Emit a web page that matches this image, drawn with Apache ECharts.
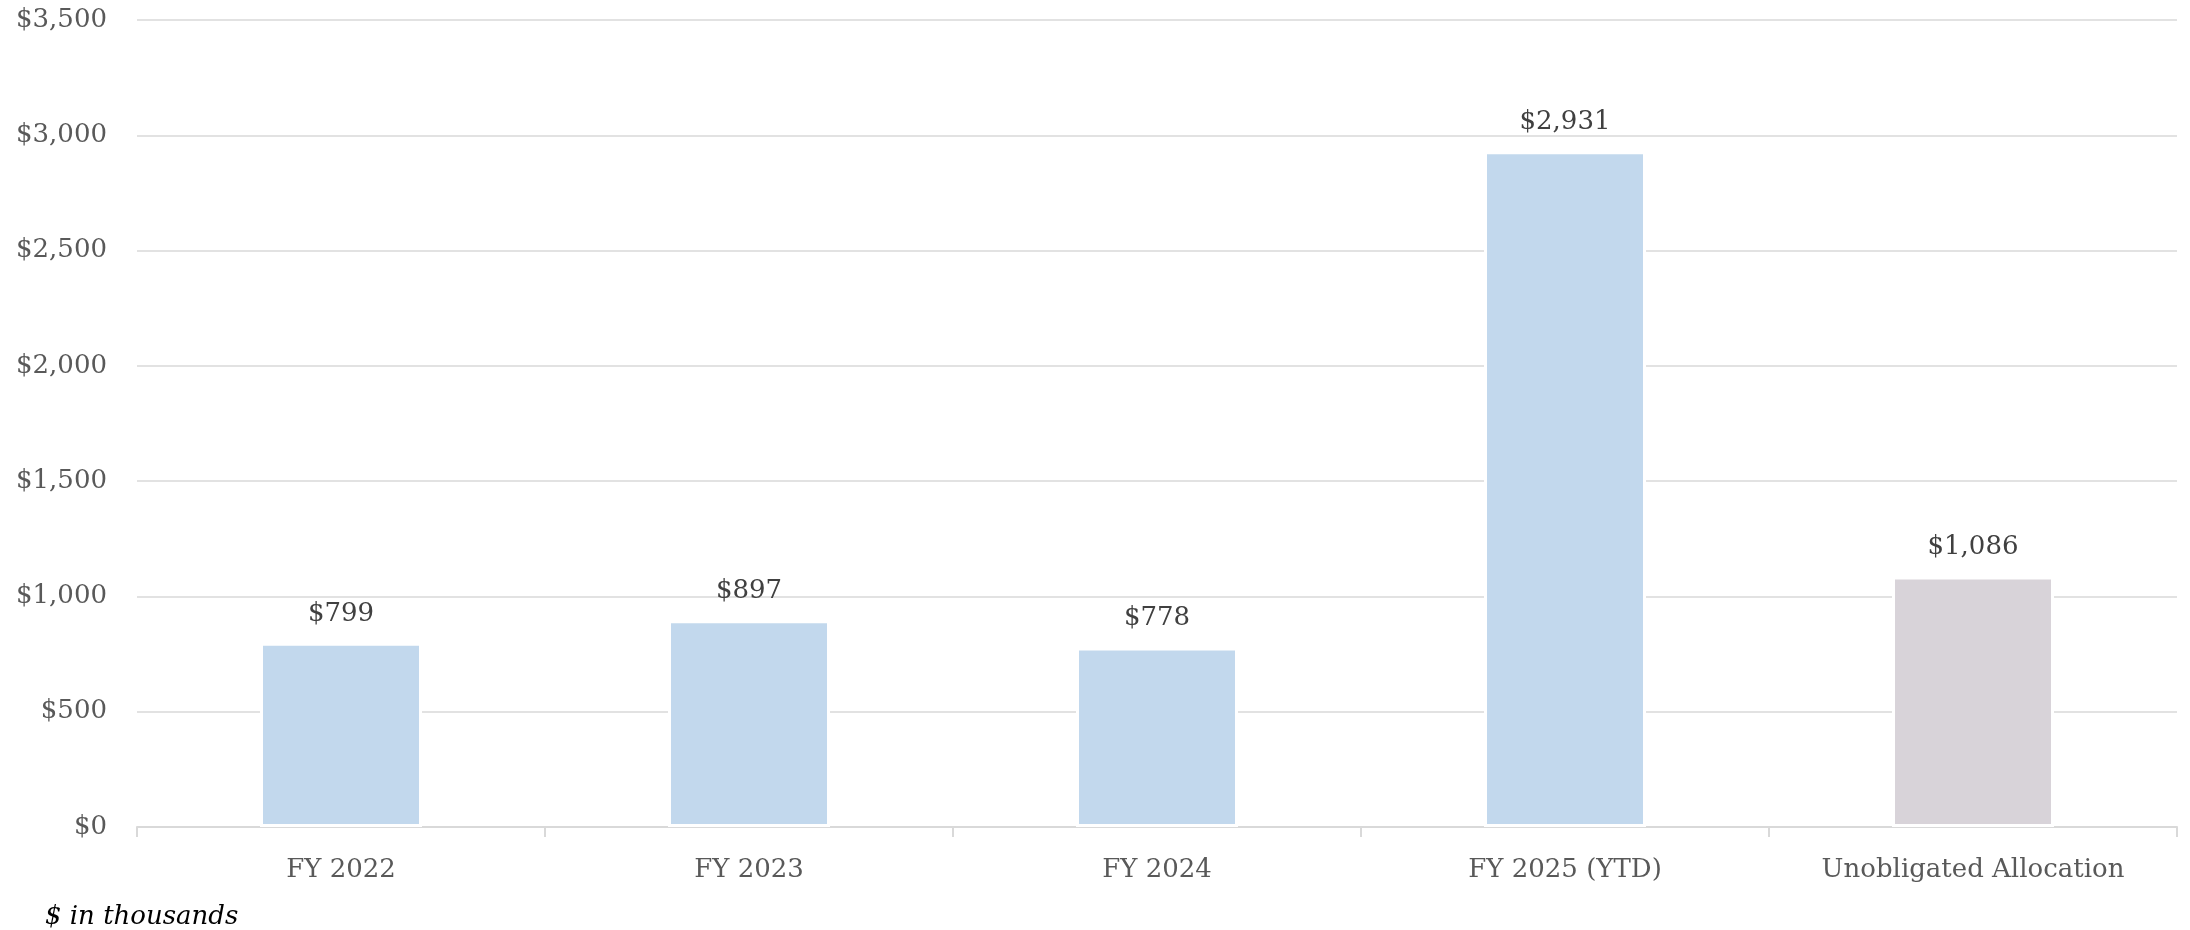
<!DOCTYPE html>
<html>
<head>
<meta charset="utf-8">
<script src="https://cdn.jsdelivr.net/npm/echarts@6/dist/echarts.min.js"></script>
<style>
  html, body { margin: 0; padding: 0; background: #fff; }
  #chart { width: 2190px; height: 930px; }
</style>
</head>
<body>
<div id="chart"></div>
<script>
// categories and values ($ in thousands)
var categories = ['FY 2022', 'FY 2023', 'FY 2024', 'FY 2025 (YTD)', 'Unobligated Allocation'];
var amounts = [799, 897, 778, 2931, 1086];
var barColors = ['#C2D8ED', '#C2D8ED', '#C2D8ED', '#C2D8ED', '#D8D3D9'];

var FONT = '"DejaVu Serif", "Liberation Serif", serif';

function money(v) {
    return '$' + v.toLocaleString('en-US');
}

var chart = echarts.init(document.getElementById('chart'));

var option = {
    animation: false,
    backgroundColor: '#ffffff',
    title: {
        text: '$ in thousands',
        left: 40,
        top: 899,
        textStyle: {
            fontFamily: FONT,
            fontStyle: 'italic',
            fontWeight: 'normal',
            fontSize: 26,
            color: '#000000'
        }
    },
    grid: {
        left: 137,
        right: 13,
        top: 20,
        bottom: 103,
        containLabel: false
    },
    xAxis: {
        type: 'category',
        data: categories,
        axisLine: { lineStyle: { color: '#D9D9D9', width: 2 } },
        axisTick: { show: true, length: 10, lineStyle: { color: '#D9D9D9', width: 2 } },
        axisLabel: {
            margin: 30,
            fontFamily: FONT,
            fontSize: 26,
            color: '#595959'
        }
    },
    yAxis: {
        type: 'value',
        min: 0,
        max: 3500,
        interval: 500,
        axisLine: { show: false },
        axisTick: { show: false },
        splitLine: { lineStyle: { color: '#D9D9D9', width: 1.5 } },
        axisLabel: {
            margin: 30,
            fontFamily: FONT,
            fontSize: 26,
            color: '#595959',
            formatter: function (v) { return money(v); }
        }
    },
    series: [{
        type: 'bar',
        barWidth: 162,
        data: amounts.map(function (v, i) {
            return { value: v, itemStyle: { color: barColors[i] } };
        }),
        itemStyle: {
            borderColor: '#ffffff',
            borderWidth: 3
        },
        label: {
            show: true,
            position: 'top',
            distance: 16,
            fontFamily: FONT,
            fontSize: 26,
            color: '#404040',
            formatter: function (p) { return money(p.value); }
        }
    }]
};

chart.setOption(option);
</script>
</body>
</html>
